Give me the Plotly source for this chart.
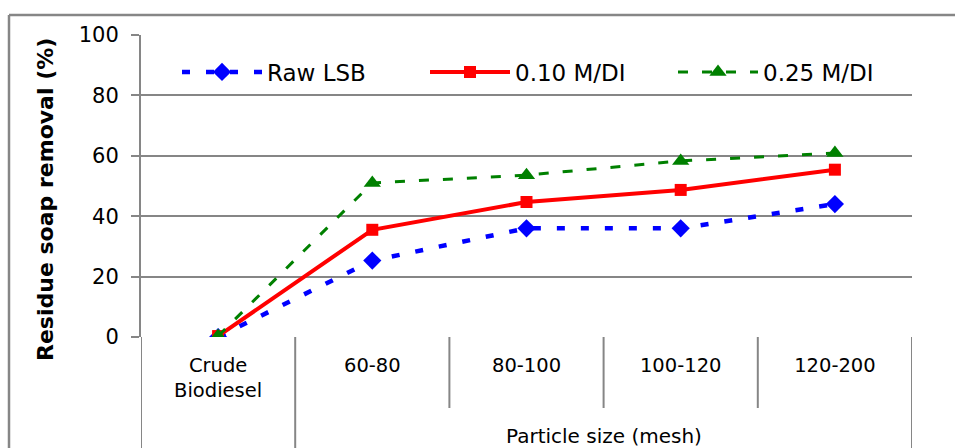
import plotly.graph_objects as go

# ---- data ----
categories = ["Crude<br>Biodiesel", "60-80", "80-100", "100-120", "120-200"]
raw_lsb = [0.0, 25.3, 36.0, 36.0, 44.0]
m010_di = [0.3, 35.5, 44.7, 48.7, 55.4]
m025_di = [0.3, 51.0, 53.6, 58.3, 60.9]
series_names = ["Raw LSB", "0.10 M/DI", "0.25 M/DI"]
y_ticks = [0, 20, 40, 60, 80, 100]
y_title = "Residue soap removal (%)"
x_group_title = "Particle size (mesh)"

# ---- layout geometry ----
W, H = 955, 448
ML, MR, MT, MB = 141, 43, 35, 111
PW, PH = W - ML - MR, H - MT - MB
GRID = "#868686"
FONT = "DejaVu Sans"


def py(px):
    """pixel row -> paper y"""
    return (H - MB - px) / PH


def px_(px):
    """pixel column -> paper x"""
    return (px - ML) / PW


fig = go.Figure()
fig.add_trace(go.Scatter(
    x=categories, y=raw_lsb, name=series_names[0], mode="lines+markers",
    line=dict(color="#0000FF", width=4.5, dash="8px,16px"),
    marker=dict(symbol="diamond", size=14, color="#0000FF")))
fig.add_trace(go.Scatter(
    x=categories, y=m010_di, name=series_names[1], mode="lines+markers",
    line=dict(color="#FF0000", width=4),
    marker=dict(symbol="square", size=12, color="#FF0000")))
fig.add_trace(go.Scatter(
    x=categories, y=m025_di, name=series_names[2], mode="lines+markers",
    line=dict(color="#008000", width=3, dash="10px,14px"),
    marker=dict(symbol="triangle-up", size=15, color="#008000")))

shapes = []
n = len(categories)
# category dividers below the axis
for i in range(n + 1):
    b = i - 0.5
    if i in (0, 1, n):
        y1 = -MB / PH
    else:
        y1 = py(408)
    shapes.append(dict(type="line", xref="x", yref="paper", x0=b, x1=b,
                       y0=0, y1=y1, line=dict(color=GRID, width=2)))
# outer chart frame (top and left)
shapes.append(dict(type="line", xref="paper", yref="paper", x0=px_(9), x1=px_(W + 5),
                   y0=py(15), y1=py(15), line=dict(color=GRID, width=2.5)))
shapes.append(dict(type="line", xref="paper", yref="paper", x0=px_(9), x1=px_(9),
                   y0=py(15), y1=py(H + 5), line=dict(color=GRID, width=2.5)))

fig.update_layout(
    width=W, height=H,
    margin=dict(l=ML, r=MR, t=MT, b=MB),
    paper_bgcolor="white", plot_bgcolor="white",
    font=dict(family=FONT, color="black"),
    showlegend=True,
    legend=dict(orientation="h", x=px_(177), xanchor="left", y=py(72), yanchor="middle",
                font=dict(size=23, family=FONT, color="black"), bgcolor="rgba(0,0,0,0)",
                itemwidth=80, entrywidth=153, entrywidthmode="pixels", tracegroupgap=0),
    xaxis=dict(type="category", categoryorder="array", categoryarray=categories,
               range=[-0.5, n - 0.5], showgrid=False, showline=False, zeroline=False,
               ticks="", ticklabelstandoff=14, tickfont=dict(size=19.5, family=FONT)),
    yaxis=dict(range=[0, 100], tickvals=y_ticks, showgrid=True, gridcolor=GRID, gridwidth=2,
               zeroline=False, showline=True, linecolor=GRID, linewidth=2,
               ticks="outside", ticklen=8, tickcolor=GRID, tickwidth=2,
               ticklabelstandoff=8, tickfont=dict(size=21, family=FONT)),
    shapes=shapes,
    annotations=[
        dict(text=x_group_title, xref="x", yref="paper", x=(1 + n - 1) / 2, y=py(436),
             xanchor="center", yanchor="middle", showarrow=False,
             font=dict(size=20, family=FONT, color="black")),
        dict(text="<b>" + y_title + "</b>", xref="paper", yref="paper", x=px_(45), y=py(200),
             xanchor="center", yanchor="middle", textangle=-90, showarrow=False,
             font=dict(size=22, family=FONT, color="black")),
    ],
)

fig.write_html("out.html")
